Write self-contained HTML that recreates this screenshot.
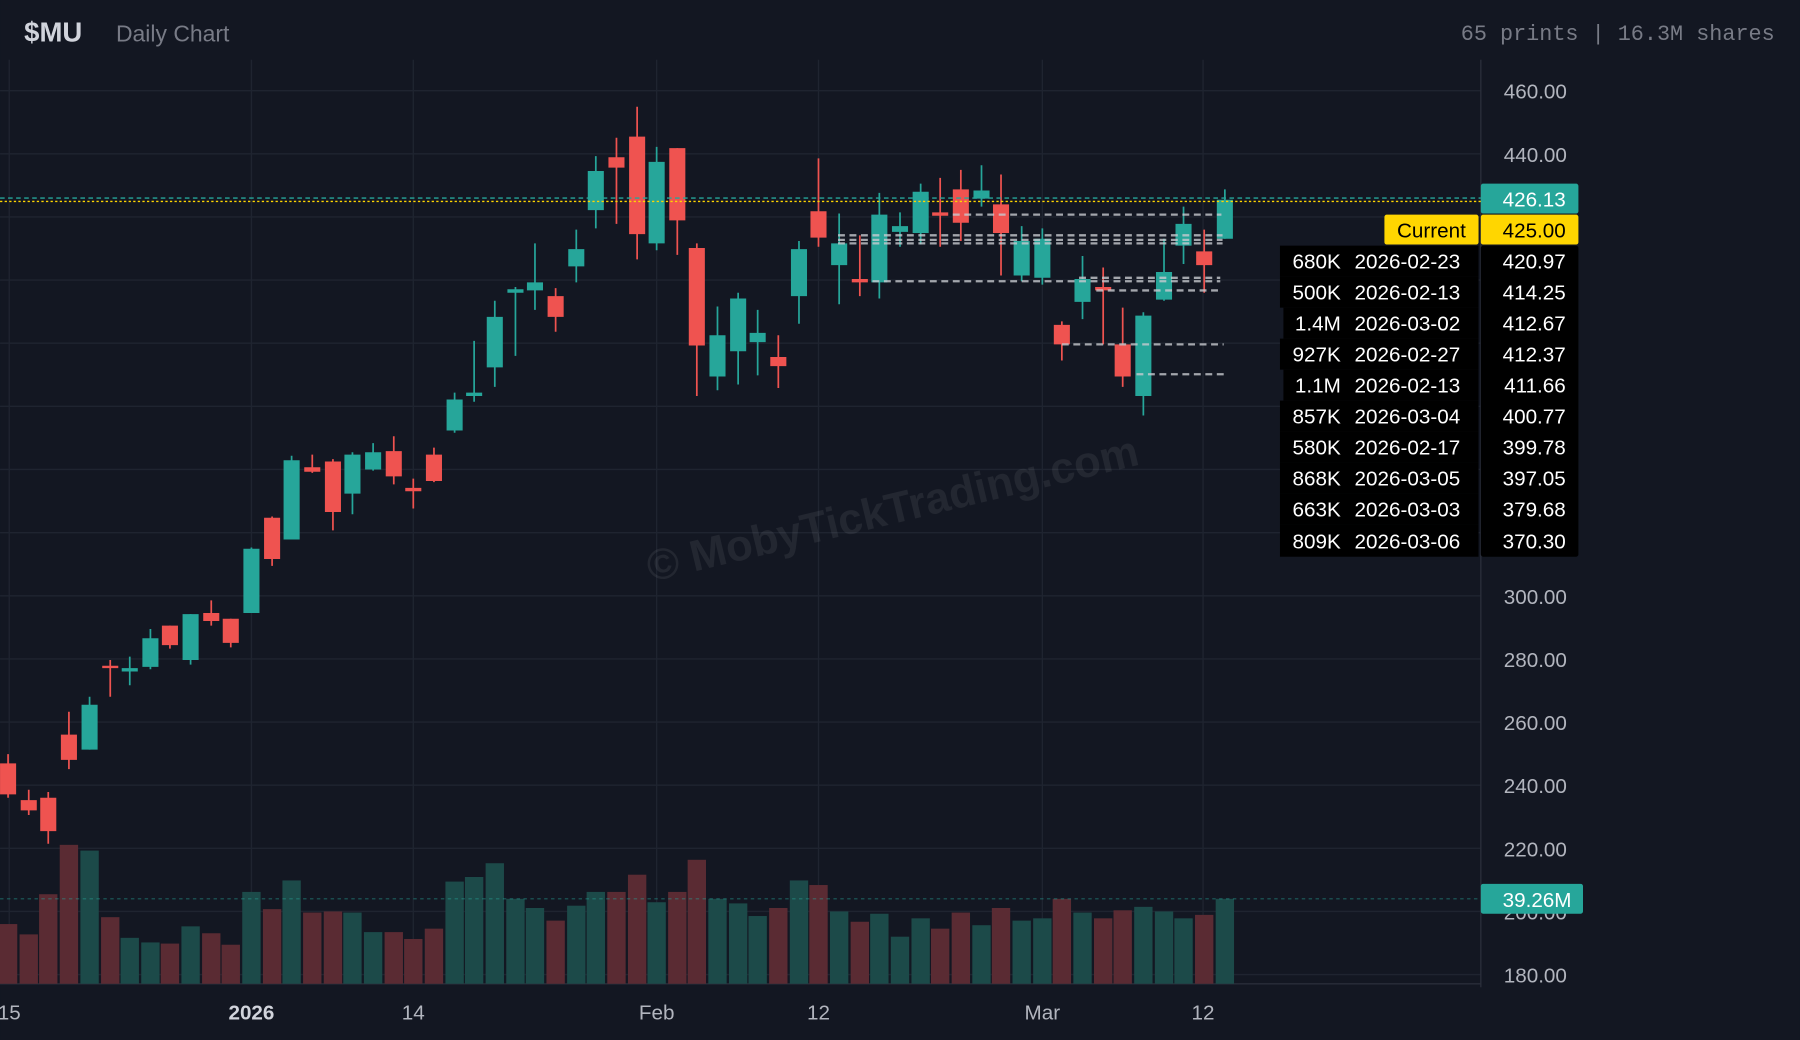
<!DOCTYPE html>
<html><head><meta charset="utf-8"><style>
html,body{margin:0;padding:0;background:#131722;width:1800px;height:1040px;overflow:hidden}
svg{display:block}
text{font-family:"Liberation Sans",sans-serif}
</style></head><body>
<svg width="1800" height="1040" viewBox="0 0 1568 906" xmlns="http://www.w3.org/2000/svg">
<rect width="1568" height="906" fill="#131722"/>
<g stroke="#1f2430" stroke-width="1.2">
<path d="M0 79H1290M0 134H1290M0 189H1290M0 244H1290M0 299H1290M0 354H1290M0 409H1290M0 464H1290M0 519H1290M0 574H1290M0 629H1290M0 684H1290M0 739H1290M0 794H1290M0 849H1290"/>
<path d="M8 52V857M219 52V857M360 52V857M572 52V857M713 52V857M908 52V857M1048 52V857"/>
</g>
<line x1="1290" y1="52" x2="1290" y2="860" stroke="#2a2e39" stroke-width="1.2"/>
<line x1="0" y1="857" x2="1290" y2="857" stroke="#2a2e39" stroke-width="1.2"/>
<text transform="translate(567,507) rotate(-13.5)" font-size="38" font-weight="bold" fill="#ffffff" fill-opacity="0.07">© MobyTickTrading.com</text>
<!-- volume -->
<g fill="#5a2b33">
<rect x="-1" y="805" width="16" height="52"/><rect x="17" y="814" width="16" height="43"/><rect x="34" y="779" width="16" height="78"/><rect x="52" y="736" width="16" height="121"/><rect x="88" y="799" width="16" height="58"/><rect x="140" y="822" width="16" height="35"/><rect x="176" y="813" width="16" height="44"/><rect x="193" y="823" width="16" height="34"/><rect x="229" y="792" width="16" height="65"/><rect x="264" y="795" width="16" height="62"/><rect x="282" y="794" width="16" height="63"/><rect x="335" y="812" width="16" height="45"/><rect x="352" y="818" width="16" height="39"/><rect x="370" y="809" width="16" height="48"/><rect x="476" y="802" width="16" height="55"/><rect x="529" y="777" width="16" height="80"/><rect x="547" y="762" width="16" height="95"/><rect x="582" y="777" width="16" height="80"/><rect x="599" y="749" width="16" height="108"/><rect x="670" y="791" width="16" height="66"/><rect x="705" y="771" width="16" height="86"/><rect x="741" y="803" width="16" height="54"/><rect x="811" y="809" width="16" height="48"/><rect x="829" y="795" width="16" height="62"/><rect x="864" y="791" width="16" height="66"/><rect x="917" y="783" width="16" height="74"/><rect x="953" y="800" width="16" height="57"/><rect x="970" y="793" width="16" height="64"/><rect x="1041" y="797" width="16" height="60"/>
</g>
<g fill="#1c4a49">
<rect x="70" y="741" width="16" height="116"/><rect x="105" y="817" width="16" height="40"/><rect x="123" y="821" width="16" height="36"/><rect x="158" y="807" width="16" height="50"/><rect x="211" y="777" width="16" height="80"/><rect x="246" y="767" width="16" height="90"/><rect x="299" y="795" width="16" height="62"/><rect x="317" y="812" width="16" height="45"/><rect x="388" y="768" width="16" height="89"/><rect x="405" y="764" width="16" height="93"/><rect x="423" y="752" width="16" height="105"/><rect x="441" y="783" width="16" height="74"/><rect x="458" y="791" width="16" height="66"/><rect x="494" y="789" width="16" height="68"/><rect x="511" y="777" width="16" height="80"/><rect x="564" y="786" width="16" height="71"/><rect x="617" y="783" width="16" height="74"/><rect x="635" y="787" width="16" height="70"/><rect x="652" y="798" width="16" height="59"/><rect x="688" y="767" width="16" height="90"/><rect x="723" y="794" width="16" height="63"/><rect x="758" y="796" width="16" height="61"/><rect x="776" y="816" width="16" height="41"/><rect x="794" y="800" width="16" height="57"/><rect x="847" y="806" width="16" height="51"/><rect x="882" y="802" width="16" height="55"/><rect x="900" y="800" width="16" height="57"/><rect x="935" y="795" width="16" height="62"/><rect x="988" y="790" width="16" height="67"/><rect x="1006" y="794" width="16" height="63"/><rect x="1023" y="800" width="16" height="57"/><rect x="1059" y="783" width="16" height="74"/>
</g>
<line x1="0" y1="783" x2="1290" y2="783" stroke="#26a69a" stroke-opacity="0.5" stroke-dasharray="3 3"/>
<!-- candles green -->
<path stroke="#26a69a" stroke-width="1.5" fill="none" d="M78 607V653M113 572V597M131 548V583M166 535V579M219 477V534M254 397V470M307 394V448M325 386V410M396 342V377M413 297V350M431 262V337M449 250V310M466 212V270M502 200V246M519 136V199M572 128V218M625 267V340M643 255V335M660 270V327M696 210V282M731 186V265M766 168V260M784 185V215M802 160V213M855 144V180M890 197V245M908 199V248M943 223V278M996 272V362M1014 208V262M1031 180V230M1067 165V208"/>
<path fill="#26a69a" d="M71 614h14v39h-14zM106 582h14v3h-14zM124 556h14v25h-14zM159 535h14v40h-14zM212 478h14v56h-14zM247 401h14v69h-14zM300 396h14v34h-14zM318 394h14v15h-14zM389 348h14v27h-14zM406 342h14v3h-14zM424 276h14v44h-14zM442 252h14v3h-14zM459 246h14v7h-14zM495 217h14v15h-14zM512 149h14v34h-14zM565 141h14v71h-14zM618 292h14v36h-14zM636 260h14v46h-14zM653 290h14v8h-14zM689 217h14v41h-14zM724 212h14v19h-14zM759 187h14v59h-14zM777 197h14v5h-14zM795 167h14v36h-14zM848 166h14v7h-14zM883 210h14v30h-14zM901 208h14v34h-14zM936 243h14v20h-14zM989 275h14v70h-14zM1007 237h14v24h-14zM1024 195h14v19h-14zM1060 174h14v34h-14z"/>
<!-- candles red -->
<path stroke="#ef5350" stroke-width="1.5" fill="none" d="M7 657V695M25 688V710M42 690V735M60 620V670M96 575V607M148 545V565M184 523V545M201 539V564M237 450V493M272 396V412M290 400V462M343 380V422M360 417V443M378 390V420M484 251V289M537 120V195M555 93V226M590 129V222M607 212V345M678 292V338M713 138V215M749 205V258M819 155V215M837 148V210M872 152V240M925 280V314M961 233V300M978 268V337M1049 200V255"/>
<path fill="#ef5350" d="M0 665h14v27h-14zM18 697h14v9h-14zM35 695h14v29h-14zM53 640h14v22h-14zM89 580h14v2h-14zM141 545h14v17h-14zM177 534h14v7h-14zM194 539h14v21h-14zM230 451h14v36h-14zM265 407h14v4h-14zM283 402h14v44h-14zM336 393h14v22h-14zM353 425h14v3h-14zM371 396h14v23h-14zM477 258h14v18h-14zM530 137h14v9h-14zM548 119h14v85h-14zM583 129h14v63h-14zM600 216h14v85h-14zM671 311h14v8h-14zM706 184h14v23h-14zM742 243h14v3h-14zM812 185h14v3h-14zM830 165h14v29h-14zM865 178h14v25h-14zM918 283h14v17h-14zM954 250h14v3h-14zM971 300h14v28h-14zM1042 219h14v12h-14z"/>
<!-- level lines -->
<g stroke="#c8cad0" stroke-opacity="0.8" stroke-width="2" stroke-dasharray="6 4">
<path d="M830 187H1064M730 205H1065M730 209H1065M730 212H1065M760 245H1063M940 242H1063M955 253H1065M925 300H1066M990 326H1066"/>
</g>
<line x1="0" y1="172.5" x2="1290" y2="172.5" stroke="#26a69a" stroke-width="1.2" stroke-dasharray="4 3"/>
<line x1="0" y1="175.5" x2="1290" y2="175.5" stroke="#ffd600" stroke-width="1.2" stroke-dasharray="2 2"/>
<!-- axis labels -->
<g fill="#b2b5be" font-size="18" text-anchor="end">
<text x="1365" y="86">460.00</text><text x="1365" y="141">440.00</text>
<text x="1365" y="526">300.00</text><text x="1365" y="581">280.00</text><text x="1365" y="636">260.00</text><text x="1365" y="691">240.00</text><text x="1365" y="746">220.00</text><text x="1365" y="801">200.00</text><text x="1365" y="856">180.00</text>
</g>
<g fill="#b2b5be" font-size="18" text-anchor="middle">
<text x="8" y="888">15</text><text x="219" y="888" font-weight="bold" fill="#d1d4dc">2026</text><text x="360" y="888">14</text><text x="572" y="888">Feb</text><text x="713" y="888">12</text><text x="908" y="888">Mar</text><text x="1048" y="888">12</text>
</g>
<!-- price tags -->
<rect x="1290" y="160" width="85" height="26" rx="2" fill="#26a69a"/>
<text x="1364" y="180" font-size="18" fill="#fff" text-anchor="end">426.13</text>
<rect x="1290" y="770" width="89" height="26" rx="2" fill="#26a69a"/>
<text x="1369" y="790" font-size="18" fill="#fff" text-anchor="end">39.26M</text>
<rect x="1206" y="187" width="82" height="26" rx="2" fill="#ffd600"/>
<rect x="1290" y="187" width="85" height="26" rx="2" fill="#ffd600"/>
<text x="1277" y="207" font-size="18" fill="#000" text-anchor="end">Current</text>
<text x="1364" y="207" font-size="18" fill="#000" text-anchor="end">425.00</text>
<g fill="#000">
<rect x="1115" y="214" width="173" height="27"/><rect x="1115" y="241" width="173" height="27"/><rect x="1118" y="268" width="170" height="27"/><rect x="1115" y="295" width="173" height="27"/><rect x="1118" y="322" width="170" height="27"/><rect x="1115" y="349" width="173" height="27"/><rect x="1115" y="376" width="173" height="27"/><rect x="1115" y="403" width="173" height="27"/><rect x="1115" y="430" width="173" height="27"/><rect x="1115" y="457" width="173" height="28"/>
<rect x="1290" y="214" width="85" height="271" rx="2"/>
</g>
<g fill="#fff" font-size="18">
<g text-anchor="end">
<text x="1168" y="234">680K</text><text x="1168" y="261">500K</text><text x="1168" y="288">1.4M</text><text x="1168" y="315">927K</text><text x="1168" y="342">1.1M</text><text x="1168" y="369">857K</text><text x="1168" y="396">580K</text><text x="1168" y="423">868K</text><text x="1168" y="450">663K</text><text x="1168" y="478">809K</text>
<text x="1364" y="234">420.97</text><text x="1364" y="261">414.25</text><text x="1364" y="288">412.67</text><text x="1364" y="315">412.37</text><text x="1364" y="342">411.66</text><text x="1364" y="369">400.77</text><text x="1364" y="396">399.78</text><text x="1364" y="423">397.05</text><text x="1364" y="450">379.68</text><text x="1364" y="478">370.30</text>
</g>
<text x="1180" y="234">2026-02-23</text><text x="1180" y="261">2026-02-13</text><text x="1180" y="288">2026-03-02</text><text x="1180" y="315">2026-02-27</text><text x="1180" y="342">2026-02-13</text><text x="1180" y="369">2026-03-04</text><text x="1180" y="396">2026-02-17</text><text x="1180" y="423">2026-03-05</text><text x="1180" y="450">2026-03-03</text><text x="1180" y="478">2026-03-06</text>
</g>
<!-- header -->
<text x="21" y="36" font-size="24" font-weight="bold" fill="#d1d4dc">$MU</text>
<text x="101" y="36" font-size="20" fill="#787b86">Daily Chart</text>
<text x="1546" y="35" font-size="19" fill="#787b86" text-anchor="end" style="font-family:'Liberation Mono',monospace">65 prints | 16.3M shares</text>
</svg>
</body></html>
